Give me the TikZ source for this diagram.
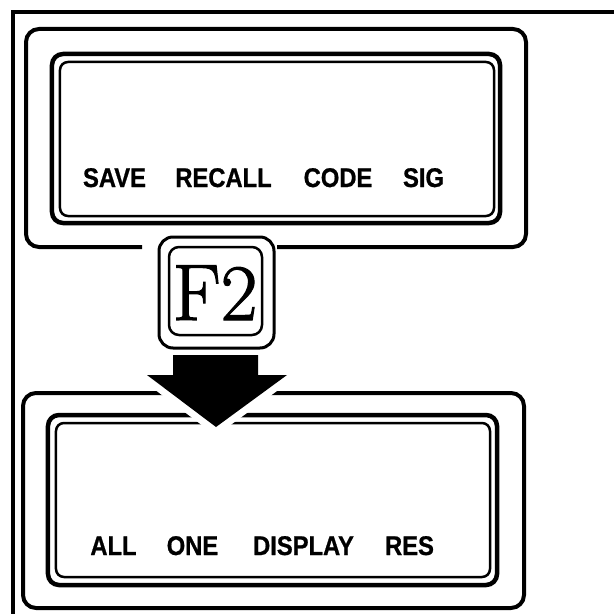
\documentclass[tikz,border=0pt]{standalone}
\usepackage{fontspec}
\newfontfamily\softfont[FakeStretch=0.88, FakeBold=0.8]{Liberation Sans}
\newfontfamily\keyface[FakeBold=1.5]{Latin Modern Roman}
\usepackage{tikz}
\usetikzlibrary{positioning}

\begin{document}
\begin{tikzpicture}[x=1bp, y=-1bp,
  frame/.style={line width=3.5bp},
  panel/.style={line width=4bp, rounded corners=13bp},
  lcd/.style={draw, line width=4.5bp, rounded corners=11bp, inner sep=0pt},
  lcdin/.style={draw, line width=2.5bp, rounded corners=8bp, inner sep=0pt},
  keyout/.style={draw, line width=3bp, rounded corners=14bp, inner sep=0pt},
  keyin/.style={draw, line width=2.5bp, rounded corners=10bp, inner sep=0pt},
  softkey/.style={inner sep=0pt, anchor=base, font=\softfont\bfseries\fontsize{27bp}{27bp}\selectfont},
  keylabel/.style={inner sep=0pt, anchor=base, font=\keyface\fontsize{80bp}{80bp}\selectfont},
  bigarrow/.style={fill=black, preaction={draw=white, line width=14bp, line join=round}}
]
\useasboundingbox (0,0) rectangle (614,614);
\draw[frame] (13,614) -- (13,12) -- (614,12);

% upper screen
\draw[panel] (142,247) -- (26,247) -- (26,29) -- (526,29) -- (526,247) -- (277,247);
\node[lcd, minimum width=448bp, minimum height=169bp] (lcdA) at (276,138.5) {};
\node[lcdin, minimum width=434bp, minimum height=154bp] (lcdAin) at (277,139) {};
\node[softkey] (save) at (114.5,187) {SAVE};
\node[softkey] (recall) at (223.5,187) {RECALL};
\node[softkey] (code) at (338,187) {CODE};
\node[softkey] (sig) at (423.5,187) {SIG};

% lower screen
\draw[panel] (23,393) rectangle (524,608);
\node[lcd, minimum width=449bp, minimum height=170bp] (lcdB) at (272.5,500) {};
\node[lcdin, minimum width=434bp, minimum height=154bp] (lcdBin) at (273,500) {};
\node[softkey] (all) at (113.5,555) {ALL};
\node[softkey] (one) at (192.5,555) {ONE};
\node[softkey] (display) at (303.5,555) {DISPLAY};
\node[softkey] (res) at (409.5,555) {RES};

% F2 key and arrow
\path[bigarrow] (173,355) -- (258,355) -- (258,375) -- (287,375) -- (216,427)
  -- (147,375) -- (173,375) -- cycle;
\node[keyout, fill=white, minimum width=115bp, minimum height=111bp] (f2) at (216.5,292.5) {};
\node[keyin, minimum width=93bp, minimum height=88bp] (f2in) at (215.5,291) {};
\node[keylabel] (f2txt) at (215,320) {F2};
\end{tikzpicture}
\end{document}
